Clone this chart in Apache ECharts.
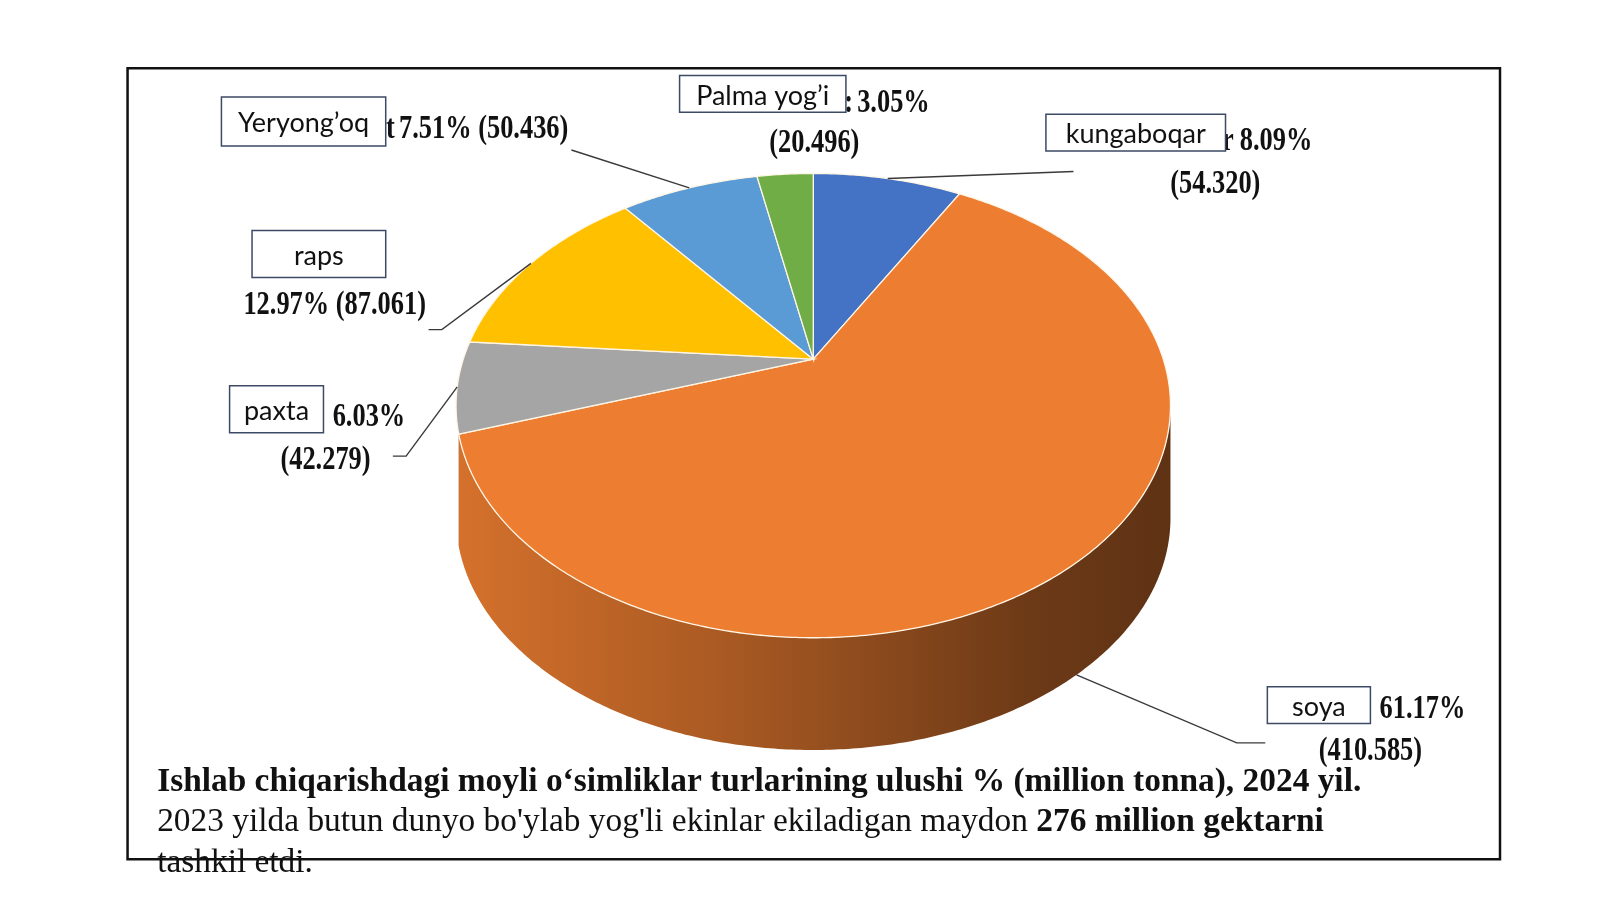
<!DOCTYPE html>
<html>
<head>
<meta charset="utf-8">
<script src="https://cdn.jsdelivr.net/npm/echarts@6/dist/echarts.min.js"></script>
<style>
html,body{margin:0;padding:0;background:#fff}
#main{width:1600px;height:899px}
</style>
</head>
<body>
<div id="main"></div>
<script>
// ma'lumotlar (soat yo'nalishida, tepadan boshlab)
var names = ['kungaboqar', 'soya', 'paxta', 'raps', 'Yeryong’oq', 'Palma yog’i'];
var values = [54.320, 410.585, 42.279, 87.061, 50.436, 20.496];
var percents = ['8.09%', '61.17%', '6.03%', '12.97%', '7.51%', '3.05%'];
var colors = ['#4472c4', '#ed7d31', '#a5a5a5', '#ffc000', '#5b9bd5', '#70ad47'];
var titleText = 'Ishlab chiqarishdagi moyli o‘simliklar turlarining ulushi % (million tonna), 2024 yil.';
var noteText = '2023 yilda butun dunyo bo\'ylab yog\'li ekinlar ekiladigan maydon ';
var noteBold = '276 million gektarni';
var noteEnd = 'tashkil etdi.';

// o'lchov: joylar 1568 px kenglikdagi rasmdan o'qilgan
var S = 1600 / 1568;
function P(v) { return v * S; }

// 3D ko'rinish (perspektiva)
var CX = P(797), CY = P(352), RA = P(343), RB = P(218.4), PERSP = 0.2, DEPTH = P(110);
var VIS0 = 101.5 * Math.PI / 180, VIS1 = 252 * Math.PI / 180;

function proj(t, dy) {
    var u = Math.sin(t), v = Math.cos(t), d = 1 + PERSP * v;
    return [CX + RA * u / d, CY - RB * v / d + (dy || 0)];
}
function darken(hex, f) {
    var c = echarts.color.parse(hex);
    return 'rgb(' + Math.round(c[0] * f) + ',' + Math.round(c[1] * f) + ',' + Math.round(c[2] * f) + ')';
}

// ulushlar
var total = 0;
for (var i = 0; i < values.length; i++) total += values[i];
var sliceData = [], acc = 0;
for (var i = 0; i < values.length; i++) {
    sliceData.push([acc / total, (acc + values[i]) / total]);
    acc += values[i];
}

// yozuv chiziqlari
var leaders = [
    {side: false, pts: [[1052, 168]]},
    {side: true, pts: [[1212, 728], [1240, 728]]},
    {side: false, pts: [[398, 447], [385, 447]]},
    {side: false, pts: [[433, 323], [420, 323]]},
    {side: false, pts: [[560, 147]]},
    null
];

function renderSide(params, api) {
    var a0 = Math.max(api.value(0) * 2 * Math.PI, VIS0);
    var a1 = Math.min(api.value(1) * 2 * Math.PI, VIS1);
    if (a1 <= a0) return {type: 'group', children: []};
    var n = Math.max(2, Math.ceil((a1 - a0) / 0.01)), pts = [], k;
    for (k = 0; k <= n; k++) pts.push(proj(a0 + (a1 - a0) * k / n));
    for (k = n; k >= 0; k--) pts.push(proj(a0 + (a1 - a0) * k / n, DEPTH));
    var col = colors[params.dataIndex];
    return {
        type: 'polygon',
        shape: {points: pts},
        style: {
            fill: new echarts.graphic.LinearGradient(CX - RA * 1.02, 0, CX + RA * 1.02, 0, [
                {offset: 0, color: darken(col, 0.9)},
                {offset: 0.4, color: darken(col, 0.7)},
                {offset: 0.8, color: darken(col, 0.46)},
                {offset: 1, color: darken(col, 0.4)}
            ], true),
            stroke: null
        }
    };
}

function renderTop(params, api) {
    var a0 = api.value(0) * 2 * Math.PI, a1 = api.value(1) * 2 * Math.PI, i = params.dataIndex;
    var n = Math.max(2, Math.ceil((a1 - a0) / 0.01)), pts = [[CX, CY]];
    for (var k = 0; k <= n; k++) pts.push(proj(a0 + (a1 - a0) * k / n));
    var children = [{
        type: 'polygon',
        shape: {points: pts},
        style: {fill: colors[i], stroke: '#fff6e6', lineWidth: 1.3}
    }];
    var ld = leaders[i];
    if (ld) {
        var p = proj((a0 + a1) / 2, ld.side ? DEPTH : 0);
        var line = [p];
        for (var j = 0; j < ld.pts.length; j++) line.push([P(ld.pts[j][0]), P(ld.pts[j][1])]);
        children.push({
            type: 'polyline',
            shape: {points: line},
            style: {stroke: '#3a3a3a', lineWidth: 1.4, fill: null},
            z2: 10
        });
    }
    return {type: 'group', children: children};
}

// yozuvlar joylashuvi
var boxes = [
    {x: 1025, y: 112, w: 176, h: 36},
    {x: 1242, y: 673, w: 101, h: 36},
    {x: 225, y: 378, w: 92, h: 46},
    {x: 247, y: 226, w: 131, h: 46},
    {x: 217, y: 95, w: 161, h: 48},
    {x: 666, y: 74, w: 163, h: 36}
];
// [foiz x, foiz y, qiymat markazi x, qiymat y]
var numPos = [
    [1215, 139, 1191, 181],
    [1352, 695, 1343, 736],
    [326, 409, 319, 451],
    null,
    null,
    [840, 101, 798, 141]
];
// qutilar ostida qolgan harf qoldiqlari
var remnants = [['r', 1209, 139], null, null, null, ['t', 387, 127], [':', 836, 101]];

var serif = 'bold 33px "Liberation Serif", "Times New Roman", serif';
function serifText(x, y, txt, align) {
    return {
        type: 'text', x: P(x), y: P(y), scaleX: 0.8, z: 5,
        style: {text: txt, font: serif, fill: '#111', textAlign: align || 'left', textVerticalAlign: 'middle'}
    };
}

var graphics = [];
graphics.push({
    type: 'rect', z: 1,
    shape: {x: P(125), y: P(67), width: P(1345), height: P(775)},
    style: {fill: null, stroke: '#111', lineWidth: 2.5}
});
for (var i = 0; i < names.length; i++) {
    var b = boxes[i];
    var valTxt = '(' + values[i].toFixed(3) + ')';
    if (numPos[i]) {
        graphics.push(serifText(numPos[i][0], numPos[i][1], percents[i]));
        graphics.push(serifText(numPos[i][2], numPos[i][3], valTxt, 'center'));
    } else if (i === 3) {
        graphics.push(serifText(328, 299, percents[i] + ' ' + valTxt, 'center'));
    } else {
        graphics.push(serifText(391, 127, percents[i] + ' ' + valTxt));
    }
    if (remnants[i]) graphics.push(serifText(remnants[i][1], remnants[i][2], remnants[i][0], 'right'));
    graphics.push({
        type: 'rect', z: 6,
        shape: {x: P(b.x), y: P(b.y), width: P(b.w), height: P(b.h)},
        style: {fill: '#fff', stroke: '#3c4a66', lineWidth: 1.5}
    });
    graphics.push({
        type: 'text', z: 7,
        x: P(b.x + b.w / 2), y: P(b.y + b.h / 2 + 2),
        style: {text: names[i], font: '27px Lato, "Open Sans", sans-serif', fill: '#111',
            textAlign: 'center', textVerticalAlign: 'middle'}
    });
}
graphics.push({
    type: 'text', x: P(154), y: P(767), z: 5,
    style: {text: titleText, font: 'bold 33.4px "Liberation Serif", serif', fill: '#111', textVerticalAlign: 'middle'}
});
graphics.push({
    type: 'text', x: P(154), y: P(806), z: 5,
    style: {
        text: '{n|' + noteText + '}{b|' + noteBold + '}',
        textVerticalAlign: 'middle',
        rich: {
            n: {font: '33.4px "Liberation Serif", serif', fill: '#111'},
            b: {font: 'bold 33.4px "Liberation Serif", serif', fill: '#111'}
        }
    }
});
graphics.push({
    type: 'text', x: P(154), y: P(846), z: 5,
    style: {text: noteEnd, font: '33.4px "Liberation Serif", serif', fill: '#111', textVerticalAlign: 'middle'}
});

var chart = echarts.init(document.getElementById('main'));
chart.setOption({
    backgroundColor: '#fff',
    animation: false,
    graphic: graphics,
    series: [{
        type: 'custom',
        name: 'side',
        coordinateSystem: 'none',
        renderItem: renderSide,
        data: sliceData,
        z: 2
    }, {
        type: 'custom',
        name: 'top',
        coordinateSystem: 'none',
        renderItem: renderTop,
        data: sliceData,
        z: 3
    }]
});
</script>
</body>
</html>
